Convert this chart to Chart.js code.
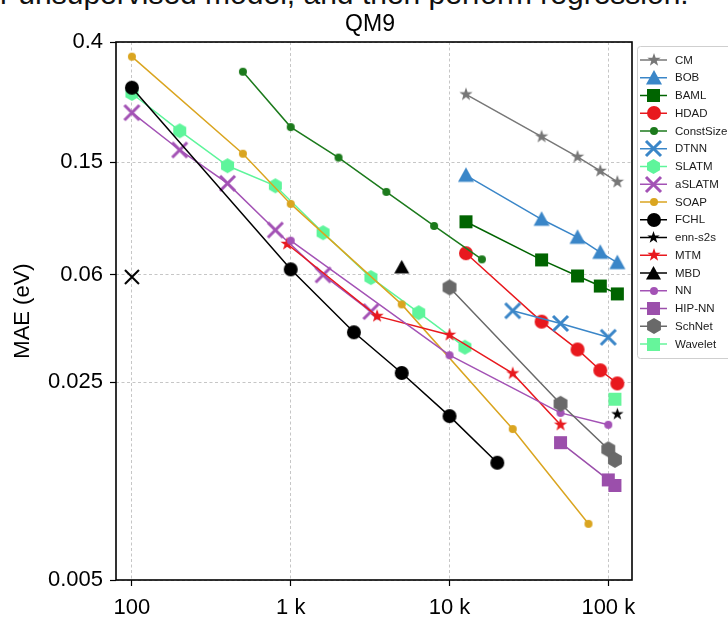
<!DOCTYPE html>
<html lang="en">
  <head>
    <meta charset="UTF-8" />
    <title>QM9</title>
    <script src="https://cdnjs.cloudflare.com/ajax/libs/Chart.js/4.4.0/chart.umd.min.js"></script>
    <style>
      html, body { margin: 0; padding: 0; background: #fff; overflow: hidden; }
      #wrap { position: relative; width: 728px; height: 617px; }
      #cut {
        position: absolute; left: 0; top: -21px; white-space: nowrap;
        font-family: "Liberation Sans", Arial, sans-serif; font-size: 30px;
        line-height: 30px; color: #111;
      }
      canvas { position: absolute; left: 0; top: 0; }
    </style>
  </head>
  <body>
    <div id="wrap">
      <div id="cut">r unsupervised model, and then perform regression.</div>
      <canvas id="chart" width="728" height="617"></canvas>
    </div>

    <script>
      // training set size / MAE (eV)
      const cmN = [12700, 38000, 64000, 89000, 114000];
      const cmMAE = [0.261, 0.185, 0.157, 0.14, 0.128];
      const bobN = [12700, 38000, 64000, 89000, 114000];
      const bobMAE = [0.135, 0.0944, 0.0815, 0.0721, 0.0663];
      const bamlN = [12700, 38000, 64000, 89000, 114000];
      const bamlMAE = [0.0925, 0.0678, 0.0595, 0.0548, 0.0514];
      const hdadN = [12700, 38000, 64000, 89000, 114000];
      const hdadMAE = [0.0716, 0.041, 0.0327, 0.0276, 0.0248];
      const constSizeN = [500, 1000, 2000, 4000, 8000, 16000];
      const constSizeMAE = [0.314, 0.2, 0.156, 0.118, 0.0894, 0.0681];
      const dtnnN = [25000, 50000, 100000];
      const dtnnMAE = [0.0448, 0.0404, 0.0361];
      const slatmN = [100, 200, 400, 800, 1600, 3200, 6400, 12500];
      const slatmMAE = [0.263, 0.194, 0.146, 0.124, 0.0846, 0.0587, 0.0441, 0.0333];
      const aslatmN = [100, 200, 400, 800, 1600, 3200];
      const aslatmMAE = [0.225, 0.166, 0.1265, 0.0865, 0.06, 0.0445];
      const soapN = [100, 500, 1000, 5000, 25000, 75000];
      const soapMAE = [0.355, 0.161, 0.107, 0.0472, 0.0171, 0.0079];
      const fchlN = [100, 1000, 2500, 5000, 10000, 20000];
      const fchlMAE = [0.2756, 0.0628, 0.0376, 0.027, 0.019, 0.013];
      const enns2sN = [114000];
      const enns2sMAE = [0.0193];
      const mtmN = [950, 3500, 10000, 25000, 50000];
      const mtmMAE = [0.0772, 0.0429, 0.0368, 0.0269, 0.0177];
      const mbdN = [5000];
      const mbdMAE = [0.0638];
      const nnN = [1000, 10000, 50000, 100000];
      const nnMAE = [0.0793, 0.0312, 0.0195, 0.0177];
      const hipnnN = [50000, 100000, 110000];
      const hipnnMAE = [0.0153, 0.0113, 0.0108];
      const schnetN = [10000, 50000, 100000, 110000];
      const schnetMAE = [0.0542, 0.021, 0.0145, 0.0133];
      const waveletN = [110000];
      const waveletMAE = [0.0218];
      const loneXN = [100];
      const loneXMAE = [0.059];

      const xTicks = [100, 1000, 10000, 100000];
      const xTickLabels = ["100", "1 k", "10 k", "100 k"];
      const yTicks = [0.005, 0.025, 0.06, 0.15, 0.4];
      const yTickLabels = ["0.005", "0.025", "0.06", "0.15", "0.4"];

      const FONT = '"Liberation Sans", Arial, sans-serif';

      function markerCanvas(shape, color, size, lw) {
        const d = Math.ceil(size) + 6;
        const c = document.createElement("canvas");
        c.width = d;
        c.height = d;
        const g = c.getContext("2d");
        const m = d / 2, r = size / 2;
        g.fillStyle = color;
        g.strokeStyle = color;
        g.beginPath();
        if (shape === "circle") {
          g.arc(m, m, r, 0, Math.PI * 2);
          g.fill();
        } else if (shape === "square") {
          g.fillRect(m - r, m - r, size, size);
        } else if (shape === "triangle") {
          g.moveTo(m, m - r);
          g.lineTo(m + r, m + r * 0.8);
          g.lineTo(m - r, m + r * 0.8);
          g.closePath();
          g.fill();
        } else if (shape === "star") {
          for (let k = 0; k < 10; k++) {
            const a = -Math.PI / 2 + (k * Math.PI) / 5;
            const rr = k % 2 ? r * 0.4 : r;
            g.lineTo(m + rr * Math.cos(a), m + rr * Math.sin(a));
          }
          g.closePath();
          g.fill();
        } else if (shape === "hexagon") {
          for (let k = 0; k < 6; k++) {
            const a = -Math.PI / 2 + (k * Math.PI) / 3;
            g.lineTo(m + r * Math.cos(a), m + r * Math.sin(a));
          }
          g.closePath();
          g.fill();
        } else if (shape === "x") {
          g.lineWidth = lw;
          g.moveTo(m - r, m - r);
          g.lineTo(m + r, m + r);
          g.moveTo(m + r, m - r);
          g.lineTo(m - r, m + r);
          g.stroke();
        }
        return c;
      }

      const series = [
        { label: "CM", n: cmN, mae: cmMAE, color: "#777777", marker: ["star", 14] },
        { label: "BOB", n: bobN, mae: bobMAE, color: "#3a86c8", marker: ["triangle", 16] },
        { label: "BAML", n: bamlN, mae: bamlMAE, color: "#006400", marker: ["square", 13] },
        { label: "HDAD", n: hdadN, mae: hdadMAE, color: "#e8191e", marker: ["circle", 14] },
        { label: "ConstSize", n: constSizeN, mae: constSizeMAE, color: "#1c7a1c", marker: ["circle", 8] },
        { label: "DTNN", n: dtnnN, mae: dtnnMAE, color: "#3a86c8", marker: ["x", 15, 3] },
        { label: "SLATM", n: slatmN, mae: slatmMAE, color: "#5ef59b", marker: ["hexagon", 15] },
        { label: "aSLATM", n: aslatmN, mae: aslatmMAE, color: "#a352b5", marker: ["x", 15, 3] },
        { label: "SOAP", n: soapN, mae: soapMAE, color: "#daa520", marker: ["circle", 8] },
        { label: "FCHL", n: fchlN, mae: fchlMAE, color: "#000000", marker: ["circle", 14] },
        { label: "enn-s2s", n: enns2sN, mae: enns2sMAE, color: "#000000", marker: ["star", 13] },
        { label: "MTM", n: mtmN, mae: mtmMAE, color: "#e8191e", marker: ["star", 14] },
        { label: "MBD", n: mbdN, mae: mbdMAE, color: "#000000", marker: ["triangle", 15] },
        { label: "NN", n: nnN, mae: nnMAE, color: "#a352b5", marker: ["circle", 8] },
        { label: "HIP-NN", n: hipnnN, mae: hipnnMAE, color: "#9b4fab", marker: ["square", 13] },
        { label: "SchNet", n: schnetN, mae: schnetMAE, color: "#696969", marker: ["hexagon", 16] },
        { label: "Wavelet", n: waveletN, mae: waveletMAE, color: "#66f59b", marker: ["square", 13] },
      ];
      series.forEach((s) => {
        s.img = markerCanvas(s.marker[0], s.color, s.marker[1], s.marker[2]);
      });

      const datasets = series.map((s, i) => ({
        label: s.label,
        data: s.n.map((x, j) => ({ x: x, y: s.mae[j] })),
        borderColor: s.color,
        backgroundColor: s.color,
        borderWidth: 1.5,
        pointStyle: s.img,
        pointRadius: 5,
        tension: 0,
        order: -i,
      }));
      datasets.push({
        label: "",
        data: loneXN.map((x, j) => ({ x: x, y: loneXMAE[j] })),
        showLine: false,
        pointStyle: markerCanvas("x", "#000000", 14, 2),
        pointRadius: 5,
        order: 1,
      });

      const decorations = {
        id: "decorations",
        afterDraw(chart) {
          const ctx = chart.ctx;
          const a = chart.chartArea;
          ctx.save();
          // axes frame
          ctx.strokeStyle = "#000";
          ctx.lineWidth = 1.6;
          ctx.strokeRect(a.left, a.top, a.right - a.left, a.bottom - a.top);

          // title and y label
          ctx.fillStyle = "#000";
          ctx.font = "23px " + FONT;
          ctx.textAlign = "center";
          ctx.textBaseline = "middle";
          ctx.fillText("QM9", 370, 25);
          ctx.save();
          ctx.translate(23, 311);
          ctx.rotate(-Math.PI / 2);
          ctx.font = "22px " + FONT;
          ctx.fillText("MAE (eV)", 0, 0);
          ctx.restore();

          // legend
          ctx.lineWidth = 1;
          ctx.strokeStyle = "#cfcfcf";
          ctx.fillStyle = "rgba(255,255,255,0.9)";
          ctx.beginPath();
          ctx.roundRect(637.5, 46.5, 110, 312, 3);
          ctx.fill();
          ctx.stroke();
          ctx.font = "11.5px " + FONT;
          ctx.textAlign = "left";
          series.forEach((s, i) => {
            const y = 60 + i * 17.75;
            ctx.strokeStyle = s.color;
            ctx.lineWidth = 1.5;
            ctx.beginPath();
            ctx.moveTo(640, y);
            ctx.lineTo(667, y);
            ctx.stroke();
            ctx.drawImage(s.img, Math.round(653.5 - s.img.width / 2), Math.round(y - s.img.height / 2));
            ctx.fillStyle = "#1a1a1a";
            ctx.fillText(s.label, 675, y + 0.5);
          });
          ctx.restore();
        },
      };

      new Chart(document.getElementById("chart"), {
        type: "line",
        data: { datasets: datasets },
        options: {
          responsive: false,
          animation: false,
          events: [],
          layout: { padding: { left: 0, right: 96, top: 42, bottom: 0 } },
          plugins: { legend: { display: false }, tooltip: { enabled: false } },
          scales: {
            x: {
              type: "logarithmic",
              min: 79.4,
              max: 141000,
              afterFit: (s) => { s.height = 37; },
              afterBuildTicks: (s) => { s.ticks = xTicks.map((v) => ({ value: v })); },
              grid: { color: "#b8b8b8", lineWidth: 0.8, tickColor: "#000", tickLength: 6, tickWidth: 1.2, tickBorderDash: [] },
              border: { display: false, dash: [3, 2.5] },
              ticks: {
                autoSkip: false,
                maxRotation: 0,
                padding: 9,
                color: "#000",
                font: { family: FONT, size: 22 },
                callback: (v) => xTickLabels[xTicks.indexOf(v)],
              },
            },
            y: {
              type: "logarithmic",
              min: 0.005,
              max: 0.4,
              afterFit: (s) => { s.width = 116; },
              afterBuildTicks: (s) => { s.ticks = yTicks.map((v) => ({ value: v })); },
              grid: { color: "#b8b8b8", lineWidth: 0.8, tickColor: "#000", tickLength: 6, tickWidth: 1.2, tickBorderDash: [] },
              border: { display: false, dash: [3, 2.5] },
              ticks: {
                autoSkip: false,
                padding: 7,
                color: "#000",
                font: { family: FONT, size: 22 },
                callback: (v) => yTickLabels[yTicks.indexOf(v)],
              },
            },
          },
        },
        plugins: [decorations],
      });
    </script>
  </body>
</html>
